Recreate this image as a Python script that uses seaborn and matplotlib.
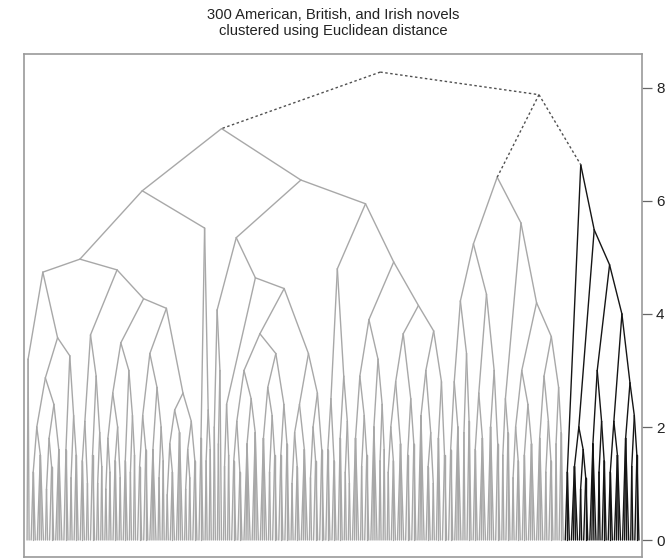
import matplotlib
matplotlib.use("Agg")
import matplotlib.pyplot as plt
import seaborn as sns
import pandas as pd

# ---------------- data ----------------
TITLE_LINES = ["300 American, British, and Irish novels",
               "clustered using Euclidean distance"]
Y_TICKS = [0, 2, 4, 6, 8]

# merge heights of the upper levels
ROOT_H = 8.28
RIGHT_H = 7.88
LEFT_H = 7.28
A1_H = 6.18
A2_H = 6.37
B_H = 6.42
C_H = 6.64

# sub-trees: [height, left, right]; (n, h) = n novels joined at height h
A1A = [4.97,
       [4.74, (2, 3.2),
        [3.58,
         [2.87, [2.0, (3, 1.2), (4, 1.5)],
                [2.4, [1.8, (2, 0.9), (3, 1.3)], (4, 1.6)]],
         [3.26, (3, 1.6), [2.2, (2, 1.1), (3, 1.5)]]]],
       [4.78,
        [3.63, [2.1, (3, 1.4), (2, 1.0)],
               [2.9, (3, 1.5), [1.9, (2, 1.0), (2, 1.3)]]],
        [4.27,
         [3.49, [2.6, [1.8, (2, 0.9), (2, 1.2)], [2.0, (3, 1.4), (2, 1.1)]],
                [3.0, (3, 1.4), [2.2, (2, 1.2), (2, 1.5)]]],
         [4.1,
          [3.3, [2.2, (3, 1.3), (3, 1.6)],
                [2.7, (4, 1.6), [2.0, (2, 1.1), (2, 1.4)]]],
          [2.6, [2.3, [1.7, (2, 0.8), (3, 1.2)], (4, 1.9)],
                [2.1, [1.6, (2, 0.9), (2, 1.1)], (3, 1.4)]]]]]]
A1B = [5.52, (3, 1.8), [2.3, (2, 1.4), (2, 1.6)]]
A2A = [5.35,
       [4.07, (2, 2.0), [3.0, (2, 1.7), (1, 0.0)]],
       [4.64, [2.4, (2, 1.3), (2, 1.5)],
        [4.45,
         [3.65,
          [3.0, [2.1, (3, 1.4), (3, 1.2)], [2.5, (4, 1.7), (4, 1.9)]],
          [3.3, [2.7, (4, 1.8), [2.2, (2, 1.2), (3, 1.5)]],
                [2.4, (3, 1.5), (3, 1.7)]]],
         [3.3, [2.4, [1.9, (2, 1.0), (3, 1.3)], (4, 1.6)],
               [2.6, [2.0, (2, 1.1), (3, 1.4)], (3, 1.6)]]]]]
A2B = [5.95,
       [4.8, [2.5, (3, 1.6), (3, 1.4)],
             [2.9, (3, 1.8), [2.1, (2, 1.2), (2, 1.0)]]],
       [4.92,
        [3.9, [2.9, (4, 1.8), [2.2, (2, 1.3), (3, 1.5)]],
              [3.2, (4, 2.0), [2.4, (2, 1.4), (2, 1.6)]]],
        [4.15,
         [3.65, [2.8, [2.0, (2, 1.2), (3, 1.4)], (4, 1.7)],
                [2.5, (3, 1.5), (3, 1.7)]],
         [3.7, [3.0, (4, 2.2), [1.9, (3, 1.3), (2, 1.0)]],
               [2.8, (3, 1.8), (3, 1.5)]]]]]
B1 = [5.24,
      [4.23, [2.8, (3, 1.6), (4, 2.0)], [3.3, (2, 1.9), (3, 2.1)]],
      [4.35, [2.6, (3, 1.6), (4, 1.8)], [3.0, (4, 2.0), (3, 1.7)]]]
B2 = [5.61,
      [2.5, (2, 1.5), (3, 1.9)],
      [4.2,
       [3.0, [2.0, (2, 1.1), (3, 1.4)], [2.4, (3, 1.5), (4, 1.7)]],
       [3.6, [2.9, (4, 1.8), [2.1, (2, 1.2), (3, 1.4)]],
             [2.7, (2, 1.7), (3, 1.9)]]]]
C1 = (3, 1.2)
C2 = [5.49,
      [2.0, (4, 1.3), [1.6, (2, 0.9), (3, 1.1)]],
      [4.87,
       [3.0, (4, 1.7), [2.1, (2, 1.2), (3, 1.4)]],
       [4.0, [2.1, (3, 1.2), (4, 1.5)],
             [2.78, (4, 1.8), [2.2, (2, 1.3), (3, 1.5)]]]]]

# ---------------- build segments ----------------
rows = []
seg_id = [0]
leaf_pos = [0]


def add_seg(x0, y0, x1, y1, group):
    i = seg_id[0]
    rows.append({"id": i, "x": x0, "y": y0, "group": group})
    rows.append({"id": i, "x": x1, "y": y1, "group": group})
    seg_id[0] += 1


def layout(node, group):
    if isinstance(node, tuple):
        n, h = node
        xs = list(range(leaf_pos[0], leaf_pos[0] + n))
        leaf_pos[0] += n
        xc = sum(xs) / n
        if n == 1:
            return xc, 0.0
        for x in xs:
            add_seg(xc, h, x, 0.0, group)
        return xc, h
    h, left, right = node
    xl, hl = layout(left, group)
    xr, hr = layout(right, group)
    xm = (xl + xr) / 2
    add_seg(xm, h, xl, hl, group)
    add_seg(xm, h, xr, hr, group)
    return xm, h


left_tree = [LEFT_H, [A1_H, A1A, A1B], [A2_H, A2A, A2B]]
b_tree = [B_H, B1, B2]
c_tree = [C_H, C1, C2]

xa, ha = layout(left_tree, "gray")
xb, hb = layout(b_tree, "gray")
xc, hc = layout(c_tree, "black")
xr = (xb + xc) / 2
add_seg(xr, RIGHT_H, xb, hb, "top")
add_seg(xr, RIGHT_H, xc, hc, "top")
xroot = (xa + xr) / 2
add_seg(xroot, ROOT_H, xa, ha, "top")
add_seg(xroot, ROOT_H, xr, RIGHT_H, "top")
n_leaves = leaf_pos[0]

df = pd.DataFrame(rows)

# ---------------- draw ----------------
sns.set_style("white")
plt.rcParams["font.family"] = ["Liberation Sans", "DejaVu Sans"]

fig = plt.figure(figsize=(6.68, 5.60), dpi=100)
ax = fig.add_axes([24 / 668, 1 - 557 / 560, (642 - 24) / 668, (557 - 54) / 560])

sns.lineplot(data=df, x="x", y="y", units="id", estimator=None, sort=False,
             hue="group", style="group",
             hue_order=["gray", "black", "top"], style_order=["gray", "black", "top"],
             palette={"gray": "#a8a8a8", "black": "#151515", "top": "#505050"},
             dashes={"gray": "", "black": "", "top": (1.8, 1.8)},
             linewidth=1.0, legend=False, ax=ax)

ax.set_xlim(-1.5, n_leaves + 0.5)
ax.set_ylim(-0.3, 8.6)
ax.set_xticks([])
ax.yaxis.tick_right()
ax.set_yticks(Y_TICKS)
ax.set_yticklabels([str(t) for t in Y_TICKS])
ax.tick_params(axis="y", length=7, width=0.9, color="#666666",
               labelcolor="#222222", labelsize=11, pad=3, right=True, left=False)
ax.set_xlabel("")
ax.set_ylabel("")
for s in ax.spines.values():
    s.set_color("#9a9a9a")
    s.set_linewidth(1.2)

fig.text(333 / 668, 1 - 15 / 560, TITLE_LINES[0], ha="center", va="center",
         fontsize=10.6, color="#222222")
fig.text(333 / 668, 1 - 31 / 560, TITLE_LINES[1], ha="center", va="center",
         fontsize=10.6, color="#222222")

fig.savefig("out.png", dpi=100)
